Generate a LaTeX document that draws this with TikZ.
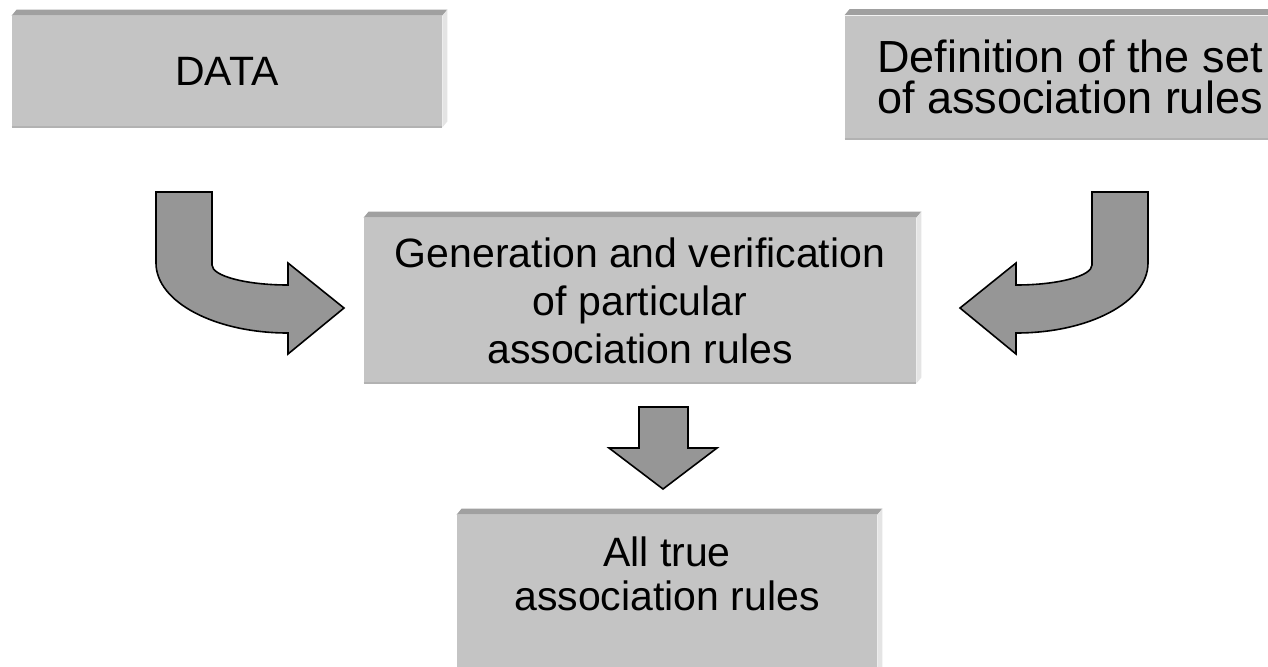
\documentclass[tikz,border=0pt]{standalone}
\usepackage{fontspec}
\setmainfont{Liberation Sans}
\usepackage{tikz}
\usetikzlibrary{calc}
\definecolor{SlabFace}{RGB}{196,196,196}
\definecolor{SlabTop}{RGB}{160,160,160}
\definecolor{SlabSide}{RGB}{228,228,228}
\definecolor{ArrowGray}{RGB}{150,150,150}
\tikzset{
  panel/.style={rectangle,fill=SlabFace,inner sep=0pt,align=center,
                font=\fontsize{20.5}{24}\selectfont},
  bevtop/.style={fill=SlabTop},
  bevside/.style={fill=SlabSide},
  blockarrow/.style={fill=ArrowGray,draw=black,line width=0.8pt,line join=miter},
}
% top and right faces of a slab
\newcommand{\slab}[1]{%
  \fill[bevtop] (#1.north west) -- ++(5,-6) -- ($(#1.north east)+(5,-6)$) -- (#1.north east) -- cycle;
  \fill[bevside] (#1.north east) -- ++(5,-6) -- ($(#1.south east)+(5,-6)$) -- (#1.south east) -- cycle;
  \draw[black!30,line width=1pt] (#1.south west) -- (#1.south east);
}

\begin{document}
\begin{tikzpicture}[x=0.5pt,y=-0.5pt]
  \useasboundingbox (0,0) rectangle (1268,666);
  \clip (0,0) rectangle (1268,666);
  % boxes
  \node[panel,minimum width=215pt,minimum height=55.5pt] (data) at (227,71.5) {DATA};
  \node[panel,minimum width=225pt,minimum height=61.5pt,
        font=\fontsize{22.5}{20.5}\selectfont] (defn) at (1070,77)
        {Definition of the set\\of association rules};
  \node[panel,minimum width=276pt,minimum height=82.5pt] (gen) at (640,300.5)
        {Generation and verification\\of particular\\association rules};
  \node[panel,minimum width=210pt,minimum height=90pt,text height=15pt,text depth=10pt,
        font=\fontsize{20.5}{22}\selectfont] (rules) at (667,605)
        {All true\\association rules};
  \slab{data} \slab{defn} \slab{gen} \slab{rules}
  % arrows
  \draw[blockarrow] (156,192) -- (212,192) -- (212,265)
        .. controls (212,276) and (246,285) .. (288,285) -- (288,263) -- (344,308)
        -- (288,354) -- (288,333) .. controls (215,333) and (156,302) .. (156,263) -- cycle;
  \draw[blockarrow] (1148,192) -- (1092,192) -- (1092,265)
        .. controls (1092,276) and (1058,285) .. (1016,285) -- (1016,263) -- (960,308)
        -- (1016,354) -- (1016,333) .. controls (1089,333) and (1148,302) .. (1148,263) -- cycle;
  \draw[blockarrow] (639,407) -- (688,407) -- (688,448) -- (717,448) -- (663,489)
        -- (609,448) -- (639,448) -- cycle;
\end{tikzpicture}
\end{document}
